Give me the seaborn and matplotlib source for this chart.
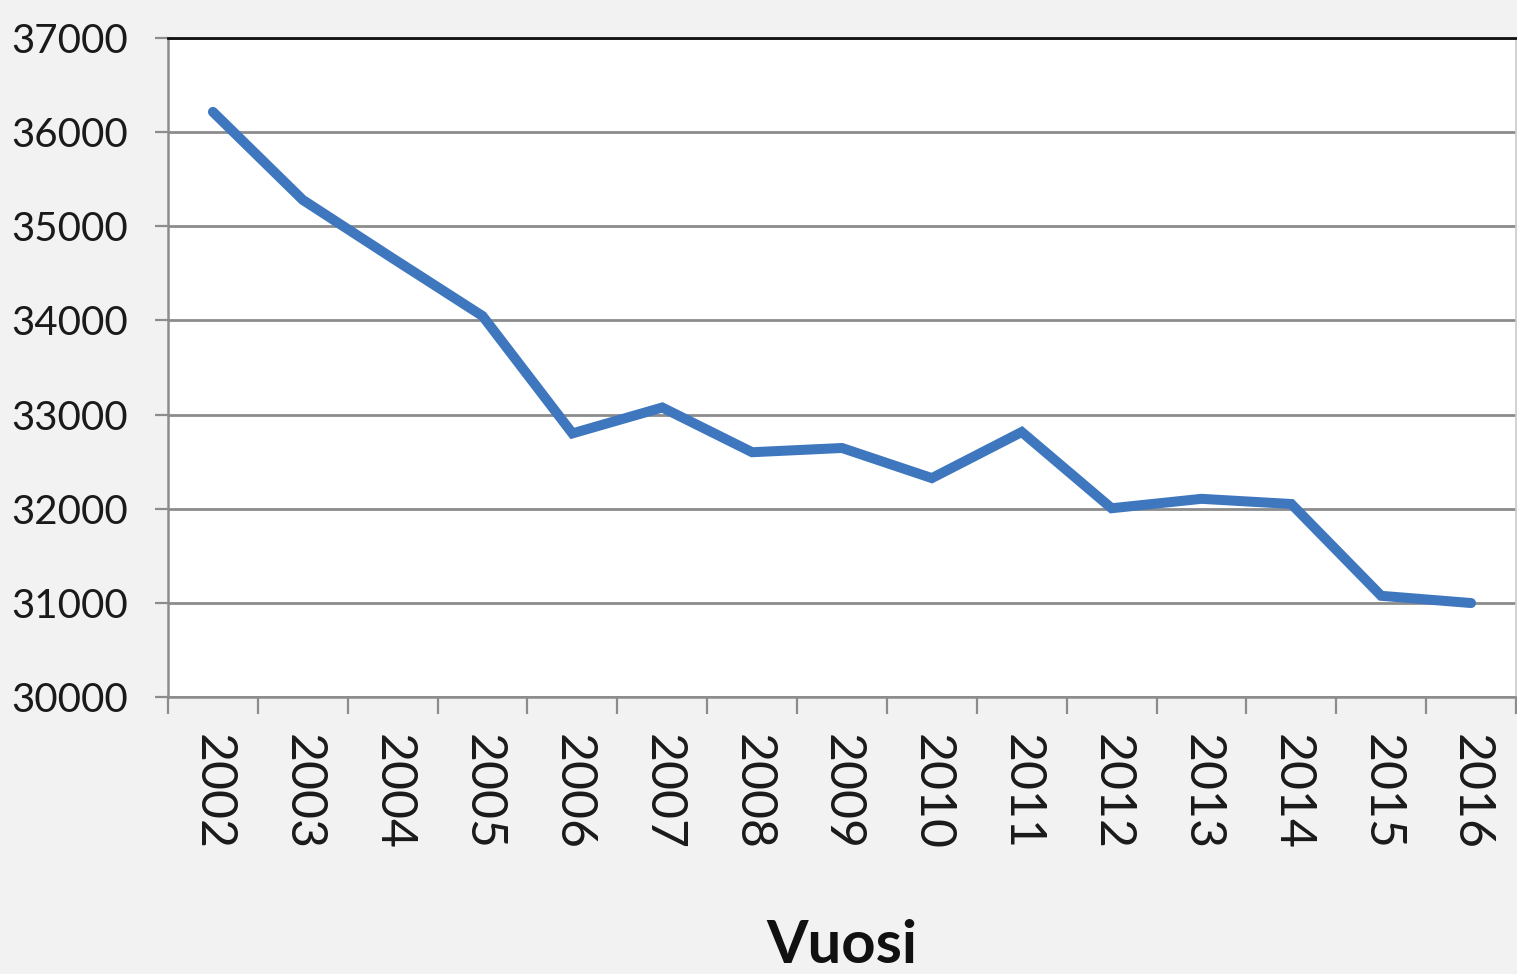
import numpy as np
import pandas as pd
import matplotlib
matplotlib.use("Agg")
import matplotlib.pyplot as plt
import seaborn as sns

years = ["2002", "2003", "2004", "2005", "2006", "2007", "2008", "2009",
         "2010", "2011", "2012", "2013", "2014", "2015", "2016"]
values = [36215, 35280, 34660, 34047, 32800, 33075, 32600, 32645,
          32325, 32815, 32005, 32105, 32050, 31075, 30998]
y_ticks = [30000, 31000, 32000, 33000, 34000, 35000, 36000, 37000]
x_label = "Vuosi"

sns.set_theme(style="white")
plt.rcParams['font.family'] = ['Lato', 'DejaVu Sans']

df = pd.DataFrame({"year": years, "value": values})

fig = plt.figure(figsize=(15.17, 9.74), dpi=100, facecolor="#f2f2f2")
ax = fig.add_axes([168/1517, 1-697/974, (1516-168)/1517, (697-38)/974])
ax.set_facecolor("white")

sns.lineplot(data=df, x="year", y="value", ax=ax, color="#3f77bf",
             linewidth=7.2, solid_capstyle="round", solid_joinstyle="miter",
             sort=False, zorder=3)

ax.set_xlim(-0.5, len(years) - 0.5)
ax.set_ylim(y_ticks[0], y_ticks[-1])
ax.set_yticks(y_ticks)
ax.set_yticklabels([str(v) for v in y_ticks], fontsize=29, color="#1a1a1a")
ax.yaxis.grid(True, color="#8c8c8c", linewidth=2.0)
ax.set_axisbelow(True)

ax.set_xticks(range(len(years)))
ax.set_xticklabels(years, rotation=-90, fontsize=36, color="#1a1a1a",
                   va="top", ha="center")
ax.set_xticks(np.arange(-0.5, len(years), 1), minor=True)
ax.tick_params(axis="x", which="major", length=0, pad=27)
ax.tick_params(axis="x", which="minor", length=12, width=1.6,
               color="#8c8c8c", direction="out", bottom=True)
ax.tick_params(axis="y", which="major", length=9.5, width=1.6,
               color="#8c8c8c", direction="out", pad=19, left=True)

ax.set_xlabel(x_label, fontsize=43, fontweight="bold", color="#111111",
              labelpad=49)
ax.set_ylabel("")

for side in ["left", "bottom"]:
    ax.spines[side].set_color("#8c8c8c")
    ax.spines[side].set_linewidth(1.8)
ax.spines["top"].set_color("#111111")
ax.spines["top"].set_linewidth(2.0)
ax.spines["right"].set_color("#cccccc")
ax.spines["right"].set_linewidth(1.2)

fig.savefig("out.png", dpi=100, facecolor=fig.get_facecolor())
